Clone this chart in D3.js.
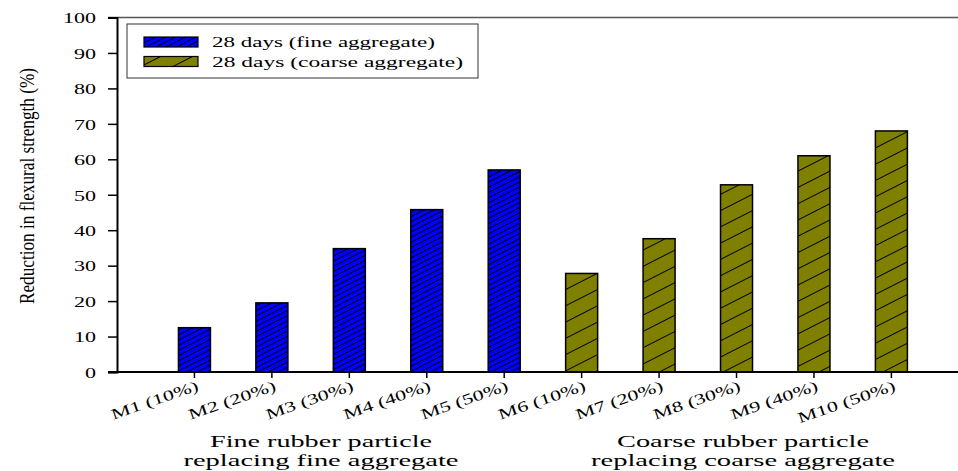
<!DOCTYPE html>
<html>
<head>
<meta charset="utf-8">
<script src="https://cdn.jsdelivr.net/npm/d3@7/dist/d3.min.js"></script>
<style>
  html, body { margin: 0; padding: 0; background: #fff; }
  svg { display: block; }
  text { font-family: "Liberation Serif", "Times New Roman", serif; fill: #000; }
</style>
</head>
<body>
<svg id="chart" width="958" height="471"></svg>
<script>
// Mix designs and their reduction in 28-day flexural strength (%)
const categories = ["M1 (10%)", "M2 (20%)", "M3 (30%)", "M4 (40%)", "M5 (50%)",
                    "M6 (10%)", "M7 (20%)", "M8 (30%)", "M9 (40%)", "M10 (50%)"];
const fineValues   = [12.5, 19.5, 34.8, 45.8, 57.0, null, null, null, null, null];
const coarseValues = [null, null, null, null, null, 27.8, 37.6, 52.8, 61.0, 68.0];
const seriesNames  = ["28 days (fine aggregate)", "28 days (coarse aggregate)"];
const yTicks = [0, 10, 20, 30, 40, 50, 60, 70, 80, 90, 100];
const groupLabels = [
  ["Fine rubber particle", "replacing fine aggregate"],
  ["Coarse rubber particle", "replacing coarse aggregate"]
];

const svg = d3.select("#chart");
const plotLeft = 117, plotRight = 958, plotTop = 17.5, plotBottom = 372;

const step = 77.44;
const x = d3.scaleBand()
  .domain(categories)
  .range([plotLeft + step * 0.5, plotLeft + step * 10.5])
  .padding(0);
const barW = 32;
const cx = d => x(d) + x.bandwidth() / 2;

const y = d3.scaleLinear().domain([0, 100]).range([plotBottom, plotTop]);

// Widen text horizontally by a factor, keeping its anchor point
function stretch(sel, k) {
  sel.each(function () {
    const n = this.getComputedTextLength();
    d3.select(this).attr("textLength", n * k).attr("lengthAdjust", "spacingAndGlyphs");
  });
}
function fitTo(sel, w) {
  sel.attr("textLength", w).attr("lengthAdjust", "spacingAndGlyphs");
}

// Hatch patterns
const defs = svg.append("defs");
function hatch(id, fill, gap) {
  const p = defs.append("pattern")
    .attr("id", id)
    .attr("patternUnits", "userSpaceOnUse")
    .attr("width", 40).attr("height", gap)
    .attr("patternTransform", "rotate(-27)");
  p.append("rect").attr("width", 40).attr("height", gap).attr("fill", fill);
  p.append("line").attr("x1", 0).attr("x2", 40).attr("y1", gap / 2).attr("y2", gap / 2)
    .attr("stroke", "#000").attr("stroke-width", 1);
}
hatch("hatchFine", "#0000ff", 4.6);
hatch("hatchCoarse", "#808000", 14.5);

// Top frame line
svg.append("line")
  .attr("x1", plotLeft - 9).attr("x2", plotRight).attr("y1", plotTop).attr("y2", plotTop)
  .attr("stroke", "#555").attr("stroke-width", 1.5);

// Bars
const barData = [];
categories.forEach((c, i) => {
  if (fineValues[i] != null) barData.push({ c, v: fineValues[i], fill: "url(#hatchFine)" });
  if (coarseValues[i] != null) barData.push({ c, v: coarseValues[i], fill: "url(#hatchCoarse)" });
});
svg.append("g").selectAll("rect").data(barData).join("rect")
  .attr("x", d => cx(d.c) - barW / 2)
  .attr("width", barW)
  .attr("y", d => y(d.v))
  .attr("height", d => y(0) - y(d.v))
  .attr("fill", d => d.fill)
  .attr("stroke", "#000").attr("stroke-width", 1.5);

// Y axis
const yAxis = svg.append("g").attr("transform", `translate(${plotLeft},0)`)
  .call(d3.axisLeft(y).tickValues(yTicks).tickSize(9).tickPadding(0).tickFormat(d3.format("d")));
yAxis.select(".domain").attr("stroke", "#000").attr("stroke-width", 2);
yAxis.selectAll(".tick line").attr("stroke", "#000").attr("stroke-width", 1.5);
yAxis.selectAll(".tick text")
  .attr("x", -21).attr("dy", "0.35em")
  .style("font-family", "Liberation Serif").style("font-size", "15px")
  .call(stretch, 1.47);

// X axis
svg.append("line")
  .attr("x1", plotLeft - 9).attr("x2", plotRight).attr("y1", plotBottom).attr("y2", plotBottom)
  .attr("stroke", "#000").attr("stroke-width", 2);
svg.append("g").selectAll("line").data(categories).join("line")
  .attr("x1", d => cx(d)).attr("x2", d => cx(d))
  .attr("y1", plotBottom).attr("y2", plotBottom + 6)
  .attr("stroke", "#000").attr("stroke-width", 1.5);
svg.append("g").selectAll("text").data(categories).join("text")
  .attr("transform", d => `translate(${cx(d) + 5},${plotBottom + 18}) rotate(-19)`)
  .attr("text-anchor", "end")
  .style("font-size", "15px")
  .text(d => d)
  .call(stretch, 1.47);

// Group captions under the axis
const captionCenters = [321, 743];
const captionWidths = [[222, 275], [252, 304]];
groupLabels.forEach((lines, g) => {
  lines.forEach((line, j) => {
    svg.append("text")
      .attr("x", captionCenters[g]).attr("y", 447 + j * 19)
      .attr("text-anchor", "middle")
      .style("font-size", "17px")
      .text(line)
      .call(fitTo, captionWidths[g][j]);
  });
});

// Y axis title
svg.append("text")
  .attr("transform", "translate(34,186) rotate(-90)")
  .attr("text-anchor", "middle")
  .style("font-size", "22px")
  .text("Reduction in flexural strength (%)")
  .call(fitTo, 236);

// Legend
const lg = svg.append("g");
lg.append("rect").attr("x", 127).attr("y", 24).attr("width", 351).attr("height", 54)
  .attr("fill", "#fff").attr("stroke", "#333").attr("stroke-width", 1);
const fills = ["url(#hatchFine)", "url(#hatchCoarse)"];
const legendWidths = [223, 251];
seriesNames.forEach((name, i) => {
  lg.append("rect").attr("x", 144).attr("y", 37 + i * 19.5).attr("width", 54).attr("height", 10)
    .attr("fill", fills[i]).attr("stroke", "#000").attr("stroke-width", 1.2);
  lg.append("text").attr("x", 212).attr("y", 47 + i * 19.5)
    .style("font-size", "15px")
    .text(name)
    .call(fitTo, legendWidths[i]);
});
</script>
</body>
</html>
